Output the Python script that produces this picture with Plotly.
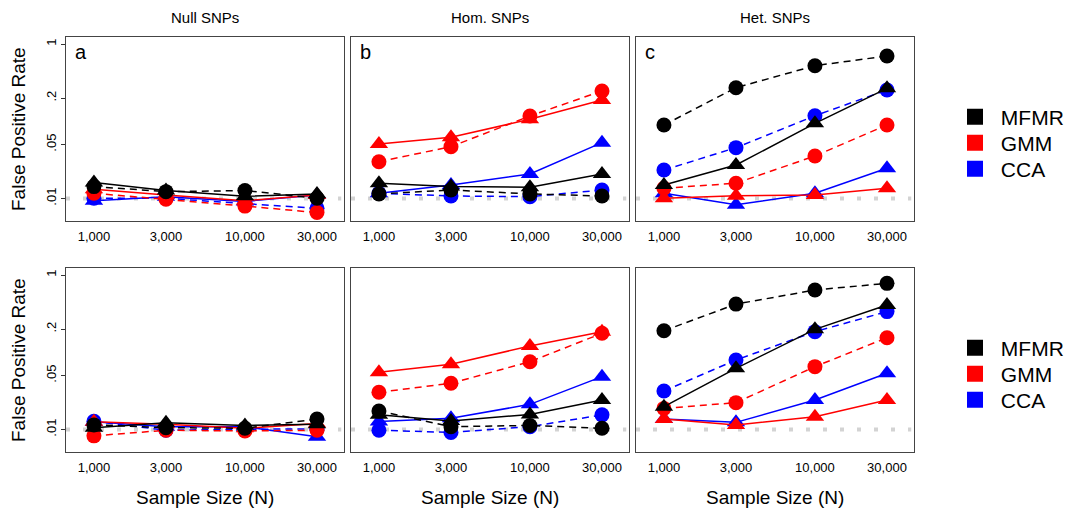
import plotly.graph_objects as go

W, H = 1072, 516

# ---------------- data ----------------
sample_sizes = [1000, 3000, 10000, 30000]
size_labels = ["1,000", "3,000", "10,000", "30,000"]
methods = ["CCA", "GMM", "MFMR"]          # drawing order (MFMR on top)
legend_order = ["MFMR", "GMM", "CCA"]
colors = {"MFMR": "#000000", "GMM": "#ff0000", "CCA": "#0000ff"}
col_titles = ["Null SNPs", "Hom. SNPs", "Het. SNPs"]
panel_letters = ["a", "b", "c"]
y_tick_vals = [0.01, 0.05, 0.2, 1]
y_tick_text = [".01", ".05", ".2", "1"]
null_rate = 0.01

# triangles / solid lines
a_tri = {"MFMR": [0.0161, 0.0127, 0.0107, 0.0115],
         "GMM":  [0.0132, 0.0111, 0.0094, 0.0111],
         "CCA":  [0.0094, 0.0106, 0.0092, 0.0111]}
# circles / dashed lines
a_circ = {"MFMR": [0.0143, 0.0123, 0.0127, 0.0101],
          "GMM":  [0.0117, 0.0098, 0.0080, 0.0066],
          "CCA":  [0.0101, 0.0101, 0.0086, 0.0075]}

b_tri = {"MFMR": [0.0158, 0.0143, 0.0140, 0.0208],
         "GMM":  [0.0508, 0.0620, 0.1060, 0.1890],
         "CCA":  [0.0117, 0.0150, 0.0208, 0.0529]}
b_circ = {"MFMR": [0.0115, 0.0129, 0.0115, 0.0108],
          "GMM":  [0.0300, 0.0470, 0.1170, 0.2470],
          "CCA":  [0.0117, 0.0108, 0.0106, 0.0129]}

c_tri = {"MFMR": [0.0150, 0.0272, 0.0940, 0.2670],
         "GMM":  [0.0101, 0.0109, 0.0111, 0.0136],
         "CCA":  [0.0117, 0.0083, 0.0117, 0.0247]}
c_circ = {"MFMR": [0.0896, 0.2720, 0.5240, 0.7000],
          "GMM":  [0.0136, 0.0158, 0.0356, 0.0896],
          "CCA":  [0.0234, 0.0456, 0.1180, 0.2540]}

d_tri = {"MFMR": [0.0106, 0.0123, 0.0113, 0.0117],
         "GMM":  [0.0126, 0.0117, 0.0104, 0.0120],
         "CCA":  [0.0126, 0.0109, 0.0109, 0.0081]}
d_circ = {"MFMR": [0.0115, 0.0106, 0.0104, 0.0137],
          "GMM":  [0.0083, 0.0098, 0.0096, 0.0098],
          "CCA":  [0.0128, 0.0098, 0.0101, 0.0102]}

e_tri = {"MFMR": [0.0155, 0.0129, 0.0157, 0.0241],
         "GMM":  [0.0551, 0.0699, 0.1206, 0.1850],
         "CCA":  [0.0127, 0.0140, 0.0212, 0.0484]}
e_circ = {"MFMR": [0.0174, 0.0109, 0.0113, 0.0104],
          "GMM":  [0.0304, 0.0397, 0.0756, 0.1760],
          "CCA":  [0.0098, 0.0092, 0.0109, 0.0155]}

f_tri = {"MFMR": [0.0198, 0.0620, 0.1980, 0.4090],
         "GMM":  [0.0137, 0.0115, 0.0147, 0.0241],
         "CCA":  [0.0137, 0.0124, 0.0241, 0.0535]}
f_circ = {"MFMR": [0.1900, 0.4200, 0.6400, 0.7800],
          "GMM":  [0.0188, 0.0223, 0.0652, 0.1545],
          "CCA":  [0.0316, 0.0795, 0.1850, 0.3360]}

panels = [(a_tri, a_circ), (b_tri, b_circ), (c_tri, c_circ),
          (d_tri, d_circ), (e_tri, e_circ), (f_tri, f_circ)]

# ---------------- layout helpers ----------------
FONT = "Liberation Sans, Arial, sans-serif"
col_left_px = [66, 351, 636]
panel_w_px = 278
row_top_px = [37, 268]
panel_h_px = 184

def px_x(p):
    return p / W

def px_y(p):
    return 1 - p / H

fig = go.Figure()
layout = dict(
    width=W, height=H,
    margin=dict(l=0, r=0, t=0, b=0),
    paper_bgcolor="white", plot_bgcolor="white",
    font=dict(family=FONT, color="black"),
    showlegend=True,
)
annotations = []
shapes = []

for k, (tri, circ) in enumerate(panels):
    r, c = divmod(k, 3)
    sfx = "" if k == 0 else str(k + 1)
    xa, ya = "x" + sfx, "y" + sfx
    x0 = px_x(col_left_px[c]); x1 = px_x(col_left_px[c] + panel_w_px)
    y1 = px_y(row_top_px[r]); y0 = px_y(row_top_px[r] + panel_h_px)
    layout["xaxis" + sfx] = dict(
        domain=[x0, x1], anchor=ya, type="log", range=[2.815, 4.656],
        tickvals=sample_sizes, ticktext=size_labels, ticks="",
        ticklabelstandoff=3,
        tickfont=dict(size=13, family=FONT), showgrid=False, zeroline=False,
        showline=True, mirror=True, linecolor="#444444", linewidth=1.2,
    )
    layout["yaxis" + sfx] = dict(
        domain=[y0, y1], anchor=xa, type="log", range=[-2.29, 0.0906],
        tickvals=y_tick_vals, ticktext=y_tick_text,
        showticklabels=(c == 0), ticks="outside" if c == 0 else "",
        ticklen=4, tickcolor="#333333", tickangle=-90,
        tickfont=dict(size=13, family=FONT), showgrid=False, zeroline=False,
        showline=True, mirror=True, linecolor="#444444", linewidth=1.2,
    )
    # nominal 0.01 reference line
    shapes.append(dict(type="line", xref=xa + " domain", yref=ya,
                       x0=0.0, x1=0.99, y0=null_rate, y1=null_rate, layer="below",
                       line=dict(color="#d3d3d3", width=4, dash="4px,13px")))
    for m in methods:
        fig.add_trace(go.Scatter(
            x=sample_sizes, y=circ[m], mode="lines+markers", xaxis=xa, yaxis=ya,
            line=dict(color=colors[m], width=1.5, dash="7px,5px"),
            marker=dict(symbol="circle", size=15, color=colors[m]),
            showlegend=False, hoverinfo="skip"))
        fig.add_trace(go.Scatter(
            x=sample_sizes, y=tri[m], mode="lines+markers", xaxis=xa, yaxis=ya,
            line=dict(color=colors[m], width=1.5),
            marker=dict(symbol="triangle-up", size=16, color=colors[m]),
            showlegend=False, hoverinfo="skip"))
    if r == 0:
        annotations.append(dict(text=col_titles[c], xref="paper", yref="paper",
                                x=(x0 + x1) / 2, y=px_y(18), showarrow=False,
                                xanchor="center", yanchor="middle",
                                font=dict(size=15, family=FONT)))
        annotations.append(dict(text=panel_letters[c], xref="paper", yref="paper",
                                x=px_x(col_left_px[c] + 7), y=px_y(52), showarrow=False,
                                xanchor="left", yanchor="middle",
                                font=dict(size=20, family=FONT)))
    else:
        annotations.append(dict(text="Sample Size (N)", xref="paper", yref="paper",
                                x=(x0 + x1) / 2, y=px_y(497), showarrow=False,
                                xanchor="center", yanchor="middle",
                                font=dict(size=19, family=FONT)))
    if c == 0:
        annotations.append(dict(text="False Positive Rate", xref="paper", yref="paper",
                                x=px_x(18), y=(y0 + y1) / 2, showarrow=False, textangle=-90,
                                xanchor="center", yanchor="middle",
                                font=dict(size=19, family=FONT)))

# legends: one single-entry legend per key so spacing matches the reference
legend_center_px = [[117, 143, 169], [348, 374, 400]]
n_leg = 0
for r in range(2):
    for i, m in enumerate(legend_order):
        n_leg += 1
        lg = "legend" if n_leg == 1 else "legend%d" % n_leg
        fig.add_trace(go.Scatter(
            x=[None], y=[None], mode="markers", name="\u00a0" + m, legend=lg,
            marker=dict(symbol="square", size=16, color=colors[m]),
            showlegend=True, xaxis="x", yaxis="y"))
        layout[lg] = dict(x=px_x(955), y=px_y(legend_center_px[r][i]),
                          xanchor="left", yanchor="middle",
                          font=dict(size=21, family=FONT), bgcolor="rgba(0,0,0,0)",
                          itemclick=False, itemdoubleclick=False)

layout["annotations"] = annotations
layout["shapes"] = shapes
fig.update_layout(**layout)
fig.write_html("out.html")
